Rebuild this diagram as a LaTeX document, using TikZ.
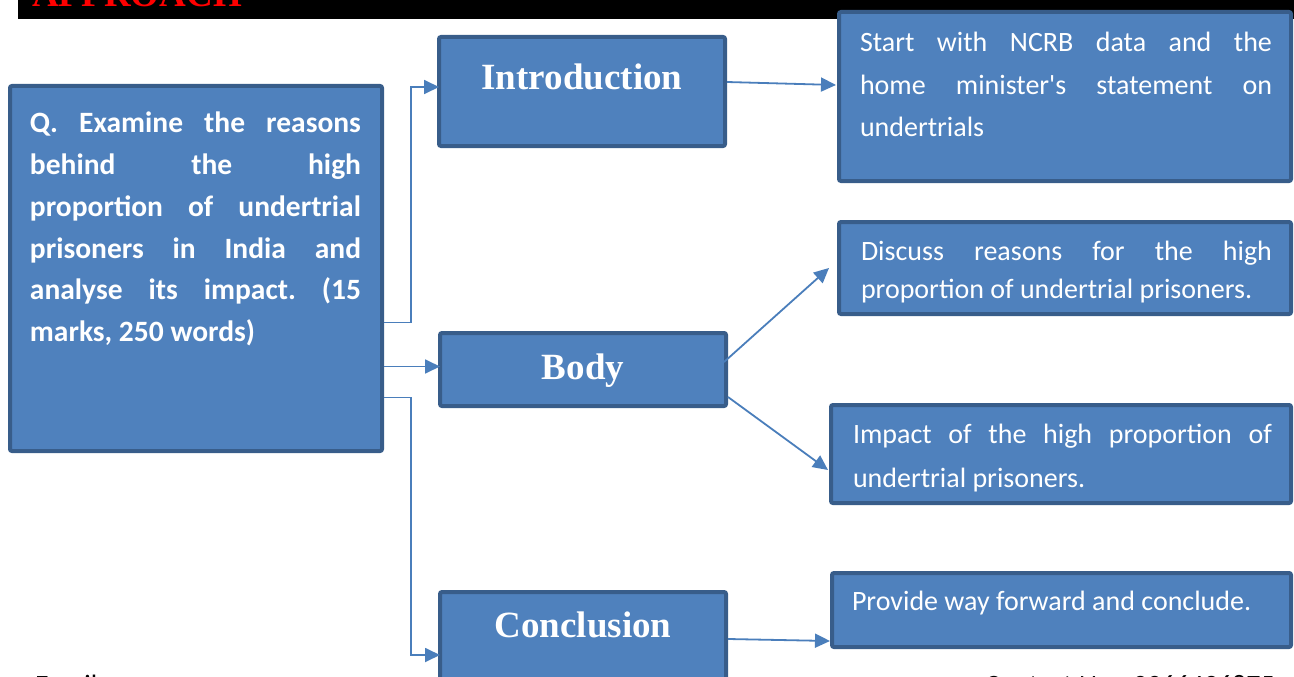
\documentclass[tikz,border=0pt]{standalone}
\usepackage{fontspec}
\setmainfont{Carlito}[Ligatures=TeXOff]
\newfontfamily\headfont{Liberation Serif}
\usetikzlibrary{arrows.meta,calc}

\definecolor{boxfill}{HTML}{4F81BD}
\definecolor{boxline}{HTML}{385D8A}
\definecolor{linkblue}{HTML}{4A7EBB}
\definecolor{titlered}{HTML}{FF0000}

\tikzset{
  box/.style={draw=boxline, fill=boxfill, line width=4pt, rounded corners=2pt,
              inner sep=0pt, outer sep=0pt, anchor=north west},
  conn/.style={draw=linkblue, line width=1.8pt, -{Triangle[length=15pt,width=14pt]}},
  plain/.style={inner sep=0pt, outer sep=0pt, text=white, anchor=base west},
  head/.style={inner sep=0pt, outer sep=0pt, text=white, anchor=base,
               font=\headfont\bfseries\fontsize{37}{40}\selectfont},
  foot/.style={inner sep=0pt, outer sep=0pt, anchor=base west,
               font=\fontsize{28}{32}\selectfont},
}

\hbadness=10000
\tolerance=10000
\frenchspacing

\begin{document}
\begin{tikzpicture}[x=1pt, y=-1pt]
  \useasboundingbox (0,0) rectangle (1294,677);
  \clip (0,0) rectangle (1294,677);

  % heading strip
  \fill[black] (18,0) rectangle (1294,19);
  \node[inner sep=0pt, anchor=base west, text=titlered,
        font=\headfont\bfseries\fontsize{37}{40}\selectfont] (approach) at (32,7) {APPROACH};

  % boxes
  \node[box, minimum width=372pt, minimum height=365pt] (q) at (10,86) {};
  \node[box, minimum width=286pt, minimum height=109pt] (intro) at (439,37) {};
  \node[box, minimum width=286pt, minimum height=73pt] (body) at (440,333) {};
  \node[box, minimum width=286pt, minimum height=126pt] (concl) at (440,592) {};
  \node[box, minimum width=452pt, minimum height=169pt] (a) at (839,12) {};
  \node[box, minimum width=452pt, minimum height=92pt] (b) at (839,222) {};
  \node[box, minimum width=460pt, minimum height=98pt] (c) at (831,405) {};
  \node[box, minimum width=459pt, minimum height=74pt] (d) at (832,573) {};

  % question text
  \node[plain] (qt) at (30,132) {\parbox[t]{331pt}{\fontsize{29.5}{42}\selectfont\bfseries
    Q. Examine the reasons\linebreak behind the high\linebreak proportion of undertrial\linebreak
    prisoners in India and\linebreak analyse its impact. (15\linebreak marks, 250 words)}};

  % section titles
  \node[head] (introt) at (582,90) {Introduction};
  \node[head] (bodyt) at (583,379) {Body};
  \node[head] (conclt) at (583,637) {Conclusion};

  % point texts
  \node[plain] (at) at (860,52) {\parbox[t]{412pt}{\fontsize{28}{42.5}\selectfont
    Start with NCRB data and the\linebreak home minister's statement on\linebreak undertrials}};
  \node[plain] (bt) at (861,260) {\parbox[t]{411pt}{\fontsize{28}{38}\selectfont
    Discuss reasons for the high\linebreak proportion of undertrial prisoners.}};
  \node[plain] (ct) at (853,443) {\parbox[t]{419pt}{\fontsize{28}{44}\selectfont
    Impact of the high proportion of\linebreak undertrial prisoners.}};
  \node[plain] (dt) at (852,610) {\fontsize{28}{34}\selectfont Provide way forward and conclude.};

  % connectors
  \draw[conn] ($(q.east)+(2,54)$) -- ++(27,0) |- ($(intro.west)+(0,-4.5)$);
  \draw[conn] ($(q.east)+(2,98)$) -- ($(body.west)+(0,-3)$);
  \draw[conn] ($(q.east)+(2,129)$) -- ++(27,0) |- (concl.west);
  \draw[conn] ($(intro.east)+(2,-9.5)$) -- ($(a.west)+(-3,-11.5)$);
  \draw[conn] ($(body.east)+(-2,-7.5)$) -- ($(b.west)+(-10,0)$);
  \draw[conn] ($(body.east)+(2,27.5)$) -- ($(c.west)+(-3,16)$);
  \draw[conn] ($(concl.east)+(2,-16)$) -- ($(d.west)+(-2,31)$);

  % footer
  \node[foot] (email) at (35,694) {Email:};
  \node[foot] (contact) at (985,694) {Contact No.: 9966436875};
\end{tikzpicture}
\end{document}
